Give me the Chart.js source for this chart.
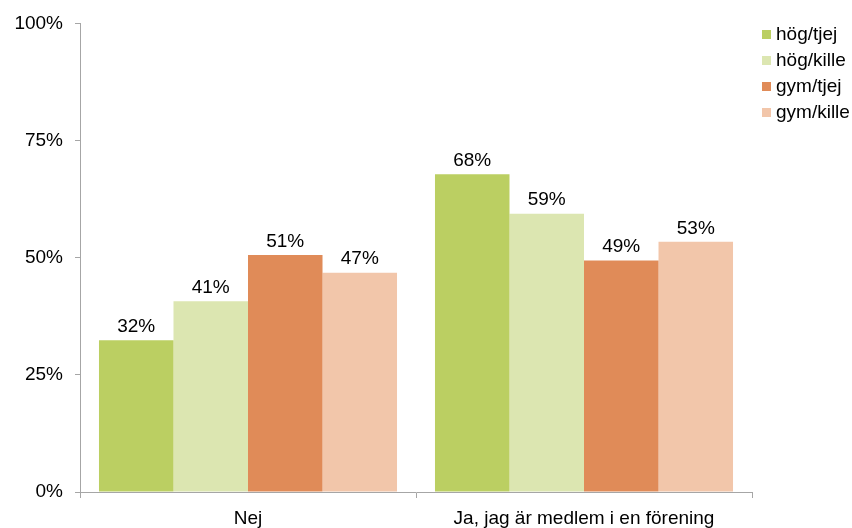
<!DOCTYPE html>
<html>
<head>
<meta charset="utf-8">
<script src="https://cdn.jsdelivr.net/npm/chart.js@4.4.1/dist/chart.umd.min.js"></script>
<style>
  html, body { margin:0; padding:0; background:#fff; }
  #wrap { width:852px; height:528px; position:relative; }
</style>
</head>
<body>
<div id="wrap"><canvas id="chart"></canvas></div>
<script>
// ============================================================
// DATA
// ============================================================
const categories = ['Nej', 'Ja, jag är medlem i en förening'];
const seriesNames = ['hög/tjej', 'hög/kille', 'gym/tjej', 'gym/kille'];
const hogTjej  = [32.4, 67.8];
const hogKille = [40.7, 59.4];
const gymTjej  = [50.6, 49.4];
const gymKille = [46.8, 53.4];
const yTicks = [0, 25, 50, 75, 100];

const colors = ['#BBCF62', '#DCE6B1', '#E08B58', '#F2C6AA'];
const FONT = '"Liberation Sans", Arial, sans-serif';
const FS = 19;
const AXIS = '#A6A6A6';

// ============================================================
// PLUGINS
// ============================================================
const valueLabels = {
  id: 'valueLabels',
  afterDatasetsDraw(chart) {
    const ctx = chart.ctx;
    ctx.save();
    ctx.font = `${FS}px ${FONT}`;
    ctx.fillStyle = '#000';
    ctx.textAlign = 'center';
    ctx.textBaseline = 'bottom';
    chart.data.datasets.forEach((ds, i) => {
      chart.getDatasetMeta(i).data.forEach((bar, j) => {
        ctx.fillText(Math.round(ds.data[j]) + '%', bar.x, bar.y - 4);
      });
    });
    ctx.restore();
  }
};

const sideLegend = {
  id: 'sideLegend',
  afterDraw(chart) {
    const ctx = chart.ctx;
    ctx.save();
    ctx.font = `${FS}px ${FONT}`;
    ctx.textBaseline = 'middle';
    ctx.textAlign = 'left';
    chart.data.datasets.forEach((ds, i) => {
      const y = 30 + i * 26;
      ctx.fillStyle = ds.backgroundColor;
      ctx.fillRect(762, y, 9, 9);
      ctx.fillStyle = '#000';
      ctx.fillText(ds.label, 776, y + 5);
    });
    ctx.restore();
  }
};

// ============================================================
// CHART
// ============================================================
const seriesValues = [hogTjej, hogKille, gymTjej, gymKille];

new Chart(document.getElementById('chart'), {
  type: 'bar',
  data: {
    labels: categories,
    datasets: seriesNames.map((name, i) => ({
      label: name,
      data: seriesValues[i],
      backgroundColor: colors[i],
      borderWidth: 0,
      barPercentage: 1,
      categoryPercentage: 0.887,
    }))
  },
  options: {
    responsive: true,
    maintainAspectRatio: false,
    animation: false,
    layout: { padding: { top: 20, right: 100, left: 0, bottom: 0 } },
    plugins: { legend: { display: false }, tooltip: { enabled: false } },
    scales: {
      x: {
        offset: true,
        grid: { offset: true, drawOnChartArea: false, drawTicks: true, tickLength: 6, color: AXIS },
        border: { color: AXIS, width: 1 },
        ticks: { color: '#000', font: { family: FONT, size: FS }, padding: 9 },
        afterFit(scale) { scale.height = 36; }
      },
      y: {
        min: 0, max: 100,
        afterBuildTicks(scale) { scale.ticks = yTicks.map(v => ({ value: v })); },
        grid: { drawOnChartArea: false, drawTicks: true, tickLength: 5, color: AXIS },
        border: { color: AXIS, width: 1 },
        ticks: { color: '#000', font: { family: FONT, size: FS }, padding: 12, callback: v => v + '%' },
        afterFit(scale) { scale.width = 80; }
      }
    }
  },
  plugins: [valueLabels, sideLegend]
});
</script>
</body>
</html>
